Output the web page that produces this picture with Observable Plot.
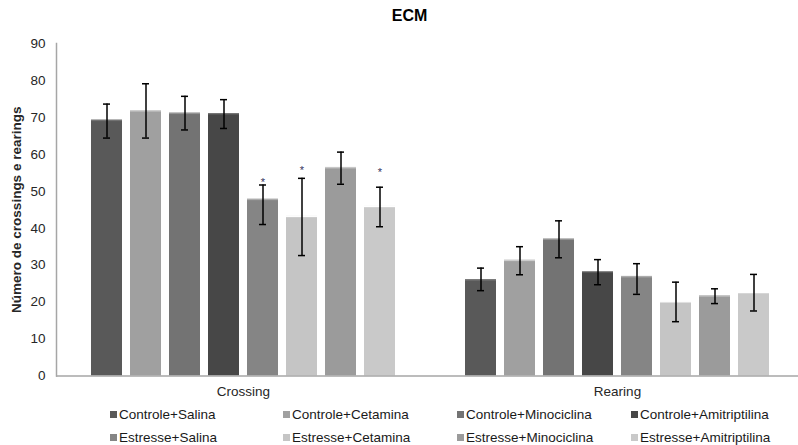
<!DOCTYPE html>
<html>
<head>
<meta charset="utf-8">
<script src="https://cdn.jsdelivr.net/npm/d3@7"></script>
<script src="https://cdn.jsdelivr.net/npm/@observablehq/plot@0.6"></script>
<style>
  html, body { margin: 0; padding: 0; background: #fff; }
  #wrap { position: relative; width: 798px; height: 445px; overflow: hidden; font-family: "Liberation Sans", Arial, sans-serif; }
  #wrap svg { position: absolute; left: 0; top: 0; }
  #title { position: absolute; top: 7px; left: 409.5px; transform: translateX(-50%); font-weight: bold; font-size: 16px; color: #000; }
  #legend { position: absolute; left: 110px; top: 404px; display: grid; grid-template-columns: 173px 174px 174px auto; row-gap: 3.5px; font-size: 13.5px; color: #1a1a1a; }
  .item { display: flex; align-items: center; height: 20px; white-space: nowrap; }
  .sw { width: 7px; height: 7px; margin-right: 2px; display: inline-block; }
</style>
</head>
<body>
<div id="wrap">
  <div id="title"></div>
  <div id="legend"></div>
</div>
<script>
const chartTitle = "ECM";
const yLabel = "Número de crossings e rearings";
const groups = ["Crossing", "Rearing"];
const series = ["Controle+Salina", "Controle+Cetamina", "Controle+Minociclina", "Controle+Amitriptilina",
                "Estresse+Salina", "Estresse+Cetamina", "Estresse+Minociclina", "Estresse+Amitriptilina"];
const colors = ["#595959", "#a0a0a0", "#737373", "#474747", "#858585", "#c5c5c5", "#9b9b9b", "#c9c9c9"];
const crossingMean = [69.2, 71.8, 71.1, 70.9, 47.8, 43.2, 56.4, 45.9];
const crossingLow  = [64.4, 64.4, 66.6, 67.0, 41.0, 32.6, 51.9, 40.4];
const crossingHigh = [73.6, 79.1, 75.7, 74.8, 51.7, 53.5, 60.6, 51.1];
const rearingMean  = [26.0, 31.3, 37.0, 28.1, 26.9, 20.1, 21.7, 22.6];
const rearingLow   = [23.1, 27.4, 32.0, 24.7, 22.1, 14.7, 19.6, 17.6];
const rearingHigh  = [29.2, 35.0, 42.0, 31.5, 30.4, 25.4, 23.6, 27.5];
const crossingSig  = [null, null, null, null, 53.0, 56.1, null, 55.7];
const rearingSig   = [null, null, null, null, null, null, null, null];
const yTicks = [0, 10, 20, 30, 40, 50, 60, 70, 80, 90];

const means = {Crossing: crossingMean, Rearing: rearingMean};
const lows = {Crossing: crossingLow, Rearing: rearingLow};
const highs = {Crossing: crossingHigh, Rearing: rearingHigh};
const sigs = {Crossing: crossingSig, Rearing: rearingSig};
const rows = groups.flatMap(g => series.map((s, i) => ({
  group: g, series: s, mean: means[g][i], lo: lows[g][i], hi: highs[g][i],
  sig: sigs[g][i], top: d3.color(colors[i]).brighter(0.7).formatHex()
})));
const sigRows = rows.filter(d => d.sig != null);

const chart = Plot.plot({
  width: 798,
  height: 445,
  marginTop: 43,
  marginBottom: 69.5,
  marginLeft: 56,
  marginRight: 0,
  style: {fontFamily: "'Liberation Sans', Arial, sans-serif", fontSize: "13.5px", color: "#262626", background: "transparent"},
  fx: {domain: groups, range: [56, 804], padding: 0, label: null},
  x: {domain: series, paddingInner: 0.21, paddingOuter: 0.85, axis: null},
  y: {domain: [0, 90], axis: null},
  color: {domain: series, range: colors},
  marks: [
    Plot.axisY({ticks: yTicks, tickSize: 0, tickPadding: 11, label: null, fontSize: 13.5}),
    Plot.axisY({ticks: [], label: yLabel, labelArrow: false, labelAnchor: "center", labelOffset: 45, fontWeight: "bold", fontSize: 13.5, tickSize: 0}),
    Plot.axisFx({anchor: "bottom", tickSize: 0, tickPadding: 10, label: null, fontSize: 13.5}),
    Plot.barY(rows, {fx: "group", x: "series", y: "mean", fill: "series"}),
    Plot.tickY(rows, {fx: "group", x: "series", y: "mean", stroke: "top", strokeWidth: 1.5}),
    Plot.ruleY([0], {stroke: "#a6a6a6", strokeWidth: 1.5}),
    Plot.frame({anchor: "left", facetAnchor: "left", stroke: "#a6a6a6", strokeWidth: 1.5}),
    Plot.ruleX(rows, {fx: "group", x: "series", y1: "lo", y2: "hi", stroke: "#000", strokeWidth: 1.5}),
    Plot.tickY(rows, {fx: "group", x: "series", y: "lo", stroke: "#000", strokeWidth: 1.5, insetLeft: 12, insetRight: 12}),
    Plot.tickY(rows, {fx: "group", x: "series", y: "hi", stroke: "#000", strokeWidth: 1.5, insetLeft: 12, insetRight: 12}),
    Plot.text(sigRows, {fx: "group", x: "series", y: "sig", text: () => "*", fill: "#33335c", fontSize: 11, dy: 2})
  ]
});
const wrap = document.getElementById("wrap");
wrap.insertBefore(chart, wrap.firstChild);
document.getElementById("title").textContent = chartTitle;
const legend = document.getElementById("legend");
series.forEach((s, i) => {
  const item = document.createElement("div");
  item.className = "item";
  const sw = document.createElement("span");
  sw.className = "sw";
  sw.style.background = colors[i];
  item.appendChild(sw);
  item.appendChild(document.createTextNode(s));
  legend.appendChild(item);
});
</script>
</body>
</html>
